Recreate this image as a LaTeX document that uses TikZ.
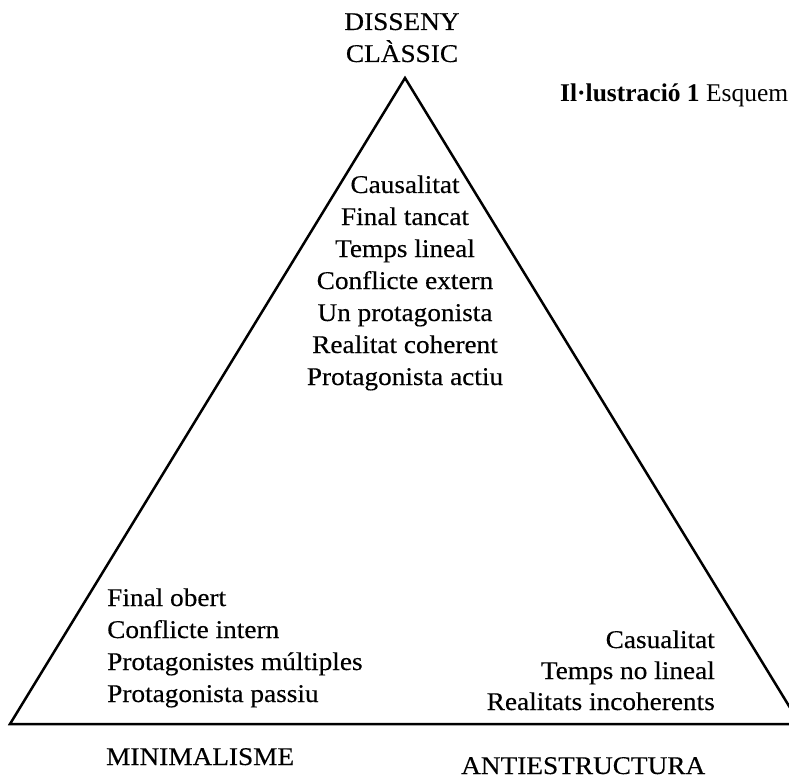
\documentclass[tikz,border=0pt]{standalone}
\usepackage{fontspec}
\setmainfont{Liberation Serif}[FakeStretch=1.07, FakeBold=0.35]
\newfontfamily\capfont{Liberation Serif}
\begin{document}
\begin{tikzpicture}[x=1pt,y=-1pt,
  lbl/.style={inner sep=0pt, font=\fontsize{25.5}{32}\selectfont},
  captext/.style={inner sep=0pt, font=\capfont\fontsize{25.5}{30}\selectfont},
  tri/.style={line width=2.5pt, line join=miter}]
\useasboundingbox (0,0) rectangle (789,778);
\clip (0,0) rectangle (789,778);
\coordinate (apex) at (405,78);
\coordinate (lc) at (10,724);
\coordinate (rc) at (800,724);
\draw[tri] (apex) -- (lc) -- (rc) -- cycle;
% top labels
\node[lbl, anchor=base] (d1) at (402,30) {DISSENY};
\node[lbl, anchor=base] (d2) at (402,62) {CLÀSSIC};
\node[captext, anchor=base west] (caption) at (560,102) {\textbf{Il·lustració 1} Esquem};
% classic block
\node[lbl, anchor=base] (t1) at (405,193) {Causalitat};
\node[lbl, anchor=base] (t2) at (405,225) {Final tancat};
\node[lbl, anchor=base] (t3) at (405,257) {Temps lineal};
\node[lbl, anchor=base] (t4) at (405,289) {Conflicte extern};
\node[lbl, anchor=base] (t5) at (405,321) {Un protagonista};
\node[lbl, anchor=base] (t6) at (405,353) {Realitat coherent};
\node[lbl, anchor=base] (t7) at (405,385) {Protagonista actiu};
% minimalism block
\node[lbl, anchor=base west] (l1) at (107,606) {Final obert};
\node[lbl, anchor=base west] (l2) at (107,638) {Conflicte intern};
\node[lbl, anchor=base west] (l3) at (107,670) {Protagonistes múltiples};
\node[lbl, anchor=base west] (l4) at (107,702) {Protagonista passiu};
% antistructure block
\node[lbl, anchor=base east] (r1) at (715,648) {Casualitat};
\node[lbl, anchor=base east] (r2) at (715,679) {Temps no lineal};
\node[lbl, anchor=base east] (r3) at (715,710) {Realitats incoherents};
% bottom labels
\node[lbl, anchor=base west] (m) at (106,765) {MINIMALISME};
\node[lbl, anchor=base west] (a) at (461,774) {ANTIESTRUCTURA};
\end{tikzpicture}
\end{document}
